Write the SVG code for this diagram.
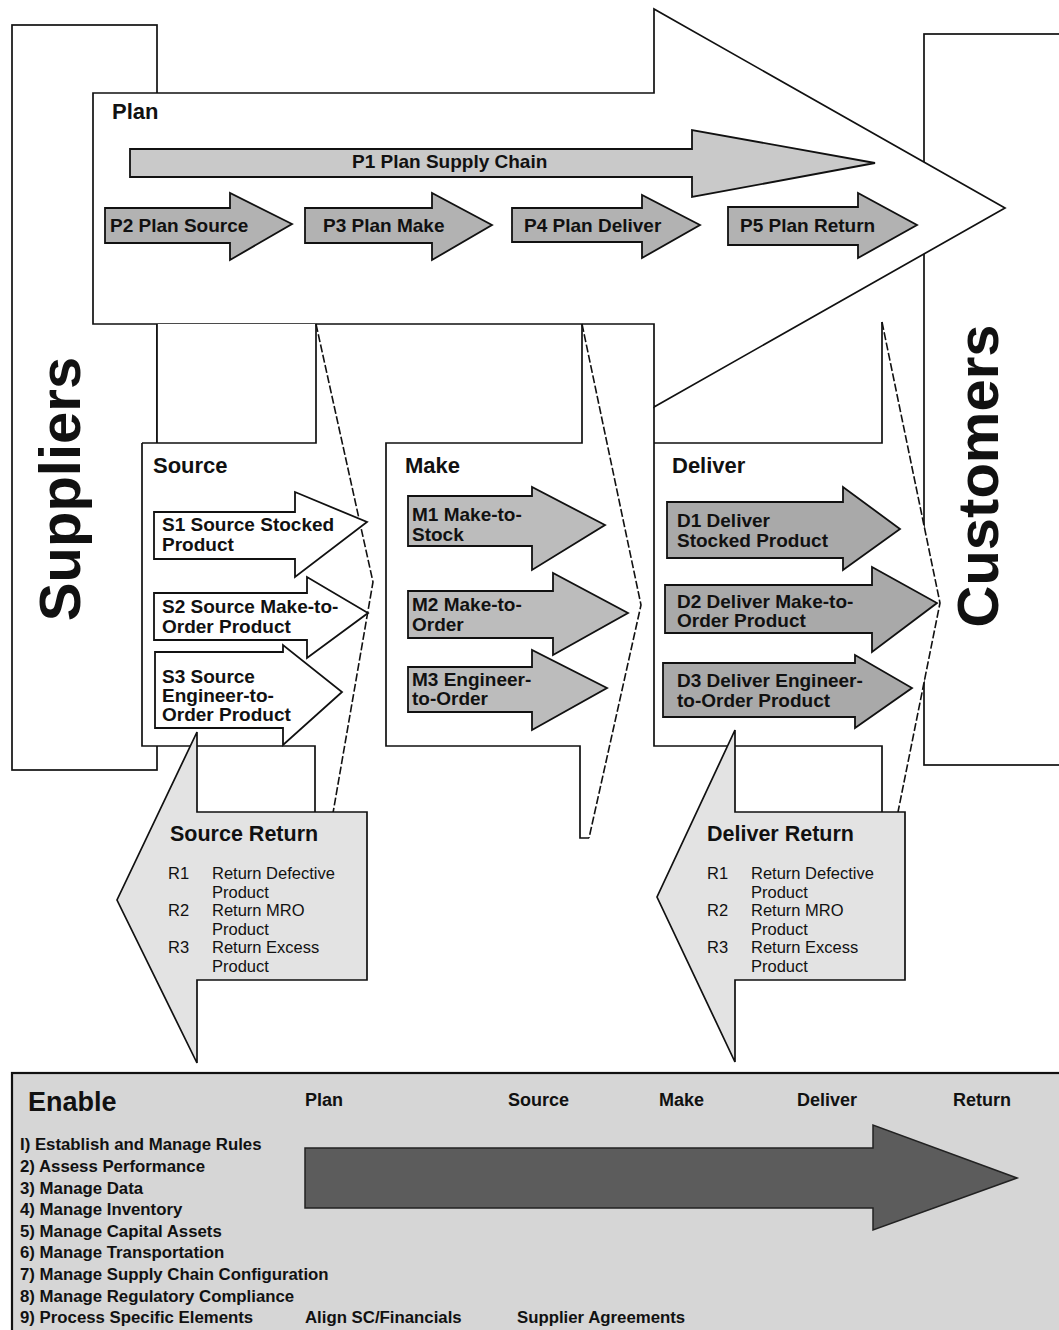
<svg xmlns="http://www.w3.org/2000/svg" width="1059" height="1330" viewBox="0 0 1059 1330">
<style>
.ln{fill:none;stroke:#111;stroke-width:1.7}
.box{fill:#fff;stroke:#111;stroke-width:1.7}
.dash{fill:none;stroke:#111;stroke-width:1.6;stroke-dasharray:8 2.5}
.wf{fill:#fff;stroke:none}
.t{font-family:"Liberation Sans",Arial,Helvetica,sans-serif;fill:#111}
.big{font-size:58px;font-weight:bold}
.sec{font-size:22px;font-weight:bold}
.al{font-size:19px;font-weight:bold}
.rt{font-size:21.5px;font-weight:bold}
.ri{font-size:16.5px}
.en{font-size:16.8px;font-weight:bold}
.eh{font-size:18px;font-weight:bold}
.p1{fill:#c9c9c9;stroke:#111;stroke-width:1.8}
.pa{fill:#b2b2b2;stroke:#111;stroke-width:1.8}
.sa{fill:#fff;stroke:#111;stroke-width:1.8}
.ma{fill:#bcbcbc;stroke:#111;stroke-width:1.8}
.da{fill:#a9a9a9;stroke:#111;stroke-width:1.8}
.ra{fill:#e3e3e3;stroke:#111;stroke-width:1.7}
</style>

<g id="suppliers">
<rect x="12" y="25" width="145" height="745" class="box"/>
<text class="t big" x="80" y="489" text-anchor="middle" transform="rotate(-90 80 489)">Suppliers</text>
</g>

<g id="customers">
<rect x="924" y="34" width="140" height="731" class="box"/>
<text class="t big" x="998" y="476" text-anchor="middle" transform="rotate(-90 998 476)">Customers</text>
</g>

<g id="plan">
<polygon points="93,93 654,93 654,9 1005,208 654,407 654,324 93,324" class="box"/>
<text class="t sec" x="112" y="119">Plan</text>
</g>

<g id="p1">
<polygon points="130,149 692,149 692,130 875,163 692,197 692,177 130,177" class="p1"/>
<text class="t al" x="352" y="168">P1 Plan Supply Chain</text>
</g>
<g id="p2">
<polygon points="105,208 230,208 230,193 292,224 230,260 230,243 105,243" class="pa"/>
<text class="t al" x="110" y="232">P2 Plan Source</text>
</g>
<g id="p3">
<polygon points="305,208 432,208 432,193 492,225 432,260 432,243 305,243" class="pa"/>
<text class="t al" x="323" y="232">P3 Plan Make</text>
</g>
<g id="p4">
<polygon points="512,208 642,208 642,195 700,225 642,258 642,242 512,242" class="pa"/>
<text class="t al" x="524" y="232">P4 Plan Deliver</text>
</g>
<g id="p5">
<polygon points="728,207 858,207 858,193 917,225 858,258 858,245 728,245" class="pa"/>
<text class="t al" x="740" y="232">P5 Plan Return</text>
</g>

<g id="source">
<polygon points="157,324 316,324 373,582 333,813 315,813 315,746 142,746 142,443 157,443" class="wf"/>
<path d="M157,324 V443 M142,443 H316 V324 M142,443 V746 H315 V813" class="ln"/>
<path d="M316,324 L373,582 L333,813" class="dash"/>
<text class="t sec" x="153" y="473">Source</text>
</g>

<g id="make">
<path d="M582,324 V443 H386 V746 H580 V838 H589" class="ln"/>
<path d="M582,324 L641,605 L589,838" class="dash"/>
<text class="t sec" x="405" y="473">Make</text>
</g>

<g id="deliver">
<polygon points="882,324 940,603 898,812 882,812" class="wf"/>
<path d="M654,407 V443 H882 V322 M654,443 V746 H882 V812" class="ln"/>
<path d="M882,322 L940,603 L898,812" class="dash"/>
<text class="t sec" x="672" y="473">Deliver</text>
</g>

<g id="s1">
<polygon points="154,512 295,512 295,492 367,522 295,577 295,559 154,559" class="sa"/>
<text class="t al" x="162" y="531">S1 Source Stocked</text>
<text class="t al" x="162" y="551">Product</text>
</g>
<g id="s2">
<polygon points="154,593 307,593 307,577 368,613 307,658 307,640 154,640" class="sa"/>
<text class="t al" x="162" y="613">S2 Source Make-to-</text>
<text class="t al" x="162" y="633">Order Product</text>
</g>
<g id="s3">
<polygon points="155,652 283,652 283,645 342,692 283,745 283,728 155,728" class="sa"/>
<text class="t al" x="162" y="683">S3 Source</text>
<text class="t al" x="162" y="702">Engineer-to-</text>
<text class="t al" x="162" y="721">Order Product</text>
</g>

<g id="m1">
<polygon points="408,496 532,496 532,487 605,525 532,570 532,546 408,546" class="ma"/>
<text class="t al" x="412" y="521">M1 Make-to-</text>
<text class="t al" x="412" y="541">Stock</text>
</g>
<g id="m2">
<polygon points="408,591 553,591 553,573 628,613 553,655 553,638 408,638" class="ma"/>
<text class="t al" x="412" y="611">M2 Make-to-</text>
<text class="t al" x="412" y="631">Order</text>
</g>
<g id="m3">
<polygon points="408,667 532,667 532,650 607,688 532,730 532,712 408,712" class="ma"/>
<text class="t al" x="412" y="686">M3 Engineer-</text>
<text class="t al" x="412" y="705">to-Order</text>
</g>

<g id="d1">
<polygon points="667,502 843,502 843,487 900,529 843,570 843,558 667,558" class="da"/>
<text class="t al" x="677" y="527">D1 Deliver</text>
<text class="t al" x="677" y="547">Stocked Product</text>
</g>
<g id="d2">
<polygon points="665,585 872,585 872,567 937,603 872,652 872,633 665,633" class="da"/>
<text class="t al" x="677" y="608">D2 Deliver Make-to-</text>
<text class="t al" x="677" y="627">Order Product</text>
</g>
<g id="d3">
<polygon points="663,663 855,663 855,655 912,688 855,728 855,717 663,717" class="da"/>
<text class="t al" x="677" y="687">D3 Deliver Engineer-</text>
<text class="t al" x="677" y="707">to-Order Product</text>
</g>

<g id="source-return">
<polygon points="367,812 197,812 197,732 117,900 197,1063 197,980 367,980" class="ra"/>
<text class="t rt" x="170" y="841">Source Return</text>
<text class="t ri" x="168" y="879">R1</text>
<text class="t ri" x="212" y="879">Return Defective</text>
<text class="t ri" x="212" y="897.5">Product</text>
<text class="t ri" x="168" y="916">R2</text>
<text class="t ri" x="212" y="916">Return MRO</text>
<text class="t ri" x="212" y="934.5">Product</text>
<text class="t ri" x="168" y="953">R3</text>
<text class="t ri" x="212" y="953">Return Excess</text>
<text class="t ri" x="212" y="971.5">Product</text>
</g>

<g id="deliver-return">
<polygon points="905,812 735,812 735,730 657,897 735,1062 735,980 905,980" class="ra"/>
<text class="t rt" x="707" y="841">Deliver Return</text>
<text class="t ri" x="707" y="879">R1</text>
<text class="t ri" x="751" y="879">Return Defective</text>
<text class="t ri" x="751" y="897.5">Product</text>
<text class="t ri" x="707" y="916">R2</text>
<text class="t ri" x="751" y="916">Return MRO</text>
<text class="t ri" x="751" y="934.5">Product</text>
<text class="t ri" x="707" y="953">R3</text>
<text class="t ri" x="751" y="953">Return Excess</text>
<text class="t ri" x="751" y="971.5">Product</text>
</g>

<g id="enable">
<rect x="12" y="1073" width="1060" height="270" fill="#d6d6d6" stroke="#111" stroke-width="2.2"/>
<polygon points="305,1148 873,1148 873,1125 1017,1178 873,1230 873,1208 305,1208" fill="#5c5c5c" stroke="#222" stroke-width="1.5"/>
<text class="t" x="28" y="1111" font-size="27" font-weight="bold">Enable</text>
<text class="t eh" x="305" y="1106">Plan</text>
<text class="t eh" x="508" y="1106">Source</text>
<text class="t eh" x="659" y="1106">Make</text>
<text class="t eh" x="797" y="1106">Deliver</text>
<text class="t eh" x="953" y="1106">Return</text>
<text class="t en" x="20" y="1150">I) Establish and Manage Rules</text>
<text class="t en" x="20" y="1172">2) Assess Performance</text>
<text class="t en" x="20" y="1194">3) Manage Data</text>
<text class="t en" x="20" y="1215">4) Manage Inventory</text>
<text class="t en" x="20" y="1237">5) Manage Capital Assets</text>
<text class="t en" x="20" y="1258">6) Manage Transportation</text>
<text class="t en" x="20" y="1280">7) Manage Supply Chain Configuration</text>
<text class="t en" x="20" y="1302">8) Manage Regulatory Compliance</text>
<text class="t en" x="20" y="1323">9) Process Specific Elements</text>
<text class="t en" x="305" y="1323">Align SC/Financials</text>
<text class="t en" x="517" y="1323">Supplier Agreements</text>
</g>
</svg>
